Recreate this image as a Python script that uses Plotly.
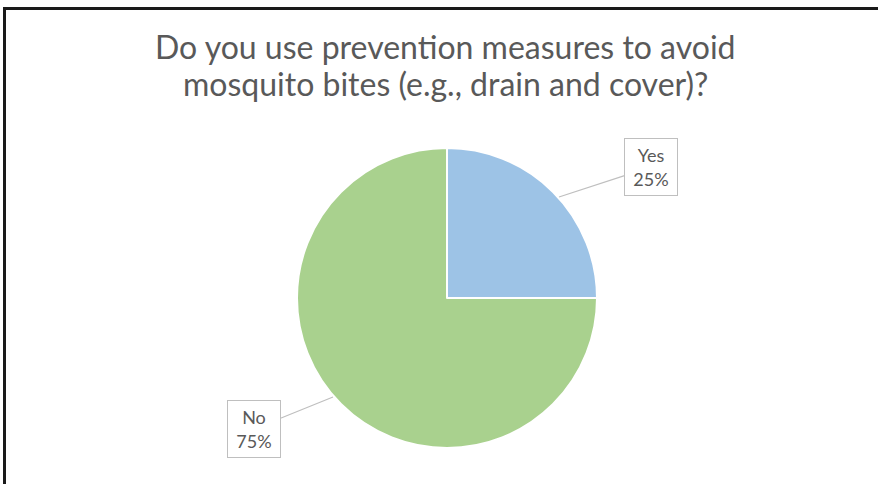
import plotly.graph_objects as go

# Data
categories = ["Yes", "No"]
values = [25, 75]
colors = ["#9DC3E6", "#A9D18E"]
title_lines = ["Do you use prevention measures to avoid", "mosquito bites (e.g., drain and cover)?"]

W, H = 878, 484
cx, cy, r = 447, 298, 150

fig = go.Figure(go.Pie(
    labels=categories,
    values=values,
    sort=False,
    direction="clockwise",
    rotation=0,
    marker=dict(colors=colors, line=dict(color="white", width=2)),
    textinfo="none",
    hoverinfo="label+percent",
    showlegend=False,
    domain=dict(x=[(cx - r) / W, (cx + r) / W], y=[1 - (cy + r) / H, 1 - (cy - r) / H]),
))

total = sum(values)
label_font = dict(family="Lato, Carlito, sans-serif", size=18, color="#595959")

# Label callouts (box centers and tip points in pixel space)
callouts = [
    dict(label=categories[0], val=values[0], box=(651, 167), tip=(559, 197)),
    dict(label=categories[1], val=values[1], box=(254, 429), tip=(333, 397)),
]
for c in callouts:
    pct = round(100 * c["val"] / total)
    fig.add_annotation(
        x=c["tip"][0] / W, y=1 - c["tip"][1] / H, xref="paper", yref="paper",
        text=f"{c['label']}<br>{pct}%",
        showarrow=True, arrowhead=0, arrowwidth=1.2, arrowcolor="#BFBFBF",
        axref="pixel", ayref="pixel",
        ax=c["box"][0] - c["tip"][0], ay=c["box"][1] - c["tip"][1],
        font=label_font, bgcolor="white", bordercolor="#BFBFBF", borderwidth=1,
        borderpad=4, align="center", width=44, height=48,
    )

title_font = dict(family="Lato, Carlito, sans-serif", size=32, color="#595959")
for i, (line, yc) in enumerate(zip(title_lines, [47, 84])):
    fig.add_annotation(
        x=445 / W, y=1 - yc / H, xref="paper", yref="paper",
        text=line, showarrow=False, xanchor="center", yanchor="middle",
        font=title_font, align="center",
    )

# Frame lines (top and left)
fig.add_shape(type="line", xref="paper", yref="paper", x0=4 / W, x1=1, y0=1 - 8.5 / H, y1=1 - 8.5 / H,
              line=dict(color="#1A1A1A", width=3))
fig.add_shape(type="line", xref="paper", yref="paper", x0=4.5 / W, x1=4.5 / W, y0=0, y1=1 - 7 / H,
              line=dict(color="#1A1A1A", width=3))

fig.update_layout(
    width=W, height=H,
    margin=dict(l=0, r=0, t=0, b=0),
    paper_bgcolor="white", plot_bgcolor="white",
)

fig.write_html("out.html")
